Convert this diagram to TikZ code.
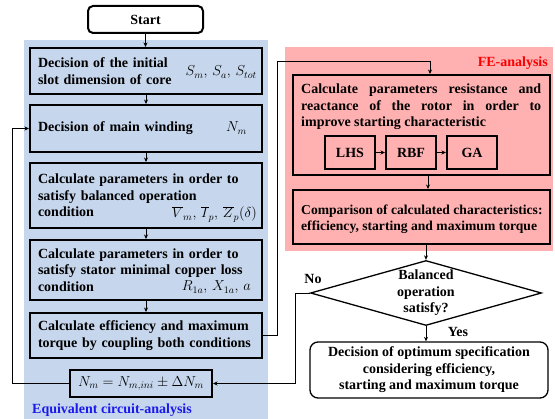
\documentclass[tikz,border=0pt]{standalone}
\usepackage{fontspec}
\setmainfont{Liberation Serif}
\usetikzlibrary{shapes.geometric,arrows.meta}
\definecolor{bluebg}{RGB}{198,214,236}
\definecolor{pinkbg}{RGB}{255,176,176}
\definecolor{labelblue}{RGB}{25,25,235}
\definecolor{labelred}{RGB}{250,0,0}
\begin{document}
\begin{tikzpicture}[x=1pt,y=-1pt,
  font=\fontsize{14}{16.5}\selectfont\bfseries,
  blk/.style={draw, line width=2pt, fill=bluebg, minimum width=232pt,
    text width=216pt, inner xsep=8pt, inner ysep=0pt, align=left},
  pbox/.style={draw, line width=2pt, fill=pinkbg, minimum width=257pt, inner sep=0pt},
  small/.style={draw, line width=2pt, fill=pinkbg, minimum width=50pt, minimum height=33pt, inner sep=0pt},
  mth/.style={font=\fontsize{14}{16}\selectfont, inner sep=0pt},
  conn/.style={line width=0.8pt, -{Stealth[length=4.5pt,width=4pt]}},
  lbl/.style={inner sep=0pt}]
\useasboundingbox (0,0) rectangle (555,419);
% regions
\fill[bluebg] (24,40) rectangle (268,419);
\fill[pinkbg] (285,47) rectangle (553,251);
% start
\node[draw, rounded corners=5pt, line width=2pt, fill=white, minimum width=115pt, minimum height=27pt] (start) at (145.5,19.5) {Start};
% left column
\node[blk, minimum height=46pt] (b1) at (146,71) {Decision of the initial\\slot dimension of core};
\node[mth, anchor=base east] (m1) at (257,76) {$S_m,\,S_a,\,S_{tot}$};
\node[blk, minimum height=47pt] (b2) at (146,128.5) {Decision of main winding};
\node[mth, anchor=base east] (m2) at (247,132) {$N_m$};
\node[blk, minimum height=65pt] (b3) at (146,195.5) {Calculate parameters in order to\\satisfy balanced operation\\condition};
\node[mth, anchor=base east] (m3) at (257,218) {$\overline{V}_m,\,\overline{I}_p,\,\overline{Z}_p(\delta)$};
\node[blk, minimum height=60pt] (b4) at (146,270) {Calculate parameters in order to\\satisfy stator minimal copper loss\\condition};
\node[mth, anchor=base east] (m4) at (251,291) {$R_{1a},\,X_{1a},\,a$};
\node[blk, minimum height=45pt] (b5) at (146,335.5) {\makebox[212pt][s]{Calculate efficiency and maximum}\\\makebox[212pt][s]{torque by coupling both conditions}};
\node[draw, line width=2pt, fill=bluebg, minimum width=142pt, minimum height=27pt, font=\fontsize{14}{16}\selectfont] (nm) at (141,383.5) {$N_m = N_{m,ini} \pm \Delta N_m$};
\node[lbl, anchor=west, text=labelblue] (eq) at (32,410) {Equivalent circuit-analysis};
% FE column
\node[lbl, anchor=east, text=labelred] (fe) at (548,63) {FE-analysis};
\node[pbox, minimum height=100pt] (fe1) at (421.5,125) {};
\node[lbl, anchor=north west, align=left] (fe1t) at (301,84) {\makebox[240pt][s]{Calculate parameters resistance and}\\\makebox[240pt][s]{reactance of the rotor in order to}\\improve starting characteristic};
\node[small] (lhs) at (350,152.5) {LHS};
\node[small] (rbf) at (411,152.5) {RBF};
\node[small] (ga) at (472,152.5) {GA};
\node[pbox, minimum height=54pt] (fe2) at (421.5,217) {};
\node[lbl, anchor=west, align=left, font=\fontsize{13.6}{16}\selectfont\bfseries] (fe2t) at (301,219) {Comparison of calculated characteristics:\\efficiency, starting and maximum torque};
% decision
\node[diamond, draw, line width=1.3pt, fill=white, minimum width=231pt, minimum height=65pt, inner sep=0pt] (dia) at (426,293) {};
\node[lbl, align=center] (diat) at (426,293) {Balanced\\operation\\satisfy?};
\node[lbl] (no) at (313,279) {No};
\node[lbl] (yes) at (458,332) {Yes};
\node[draw, rounded corners=8pt, line width=1.3pt, fill=white, minimum width=238pt, minimum height=56pt, align=center, inner sep=0pt] (fin) at (429,370) {Decision of optimum specification\\considering efficiency,\\starting and maximum torque};
% coordinates
\coordinate (c1) at (277,61);
\coordinate (c2) at (430,61);
\coordinate (c3) at (12,128.5);
\coordinate (c4) at (295,293);
\coordinate (c5) at (428,0);
% connectors
\draw[conn] (start.south) -- (start.south |- b1.north);
\draw[conn] (b1.south) -- (b2.north);
\draw[conn] (b2.south) -- (b3.north);
\draw[conn] (b3.south) -- (b4.north);
\draw[conn] (b4.south) -- (b5.north);
\draw[conn] (nm.west) -| (c3) -- (b2.west);
\draw[conn] (b5.east) -| (c1) -- (c2) -- (fe1.north -| c2);
\draw[conn] (lhs.east) -- (rbf.west);
\draw[conn] (rbf.east) -- (ga.west);
\draw[conn] (fe1.south -| c5) -- (fe2.north -| c5);
\draw[conn] (fe2.south -| dia.north) -- (dia.north);
\draw[conn] (dia.west) -- (c4) |- (nm.east);
\draw[conn] (dia.south) -- (fin.north -| dia.south);
\end{tikzpicture}
\end{document}
